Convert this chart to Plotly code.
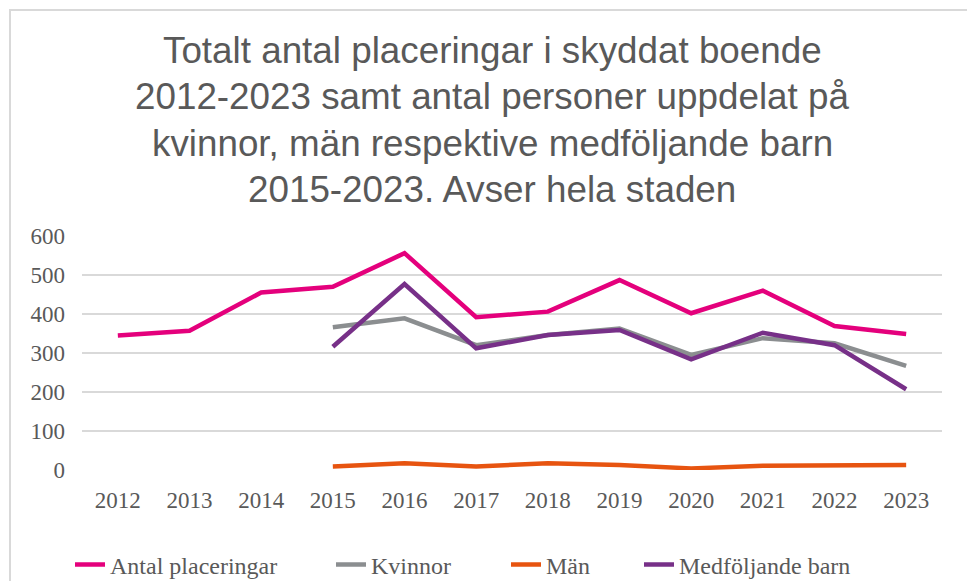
import plotly.graph_objects as go

years = ["2012", "2013", "2014", "2015", "2016", "2017", "2018", "2019", "2020", "2021", "2022", "2023"]
antal_placeringar = [345, 357, 455, 470, 556, 392, 406, 487, 402, 460, 369, 349]
kvinnor = [None, None, None, 366, 389, 320, 346, 363, 295, 338, 325, 267]
man = [None, None, None, 9, 17, 9, 17, 13, 4, 11, 11, 13]
medfoljande_barn = [None, None, None, 316, 477, 312, 346, 359, 284, 352, 320, 207]

series_names = ["Antal placeringar", "Kvinnor", "Män", "Medföljande barn"]
series_values = [antal_placeringar, kvinnor, man, medfoljande_barn]
series_colors = ["#E4007C", "#8B8E90", "#E75410", "#773088"]

title_lines = [
    "Totalt antal placeringar i skyddat boende",
    "2012-2023 samt antal personer uppdelat på",
    "kvinnor, män respektive medföljande barn",
    "2015-2023. Avser hela staden",
]

serif = "Liberation Serif, Times New Roman, serif"
sans = "Liberation Sans, Arial, sans-serif"
gray_text = "#595959"

W, H = 975, 581
L, T, R, B = 74, 228, 41, 119
PW, PH = W - L - R, H - T - B

def px_x(x):
    return (x - L) / PW

def px_y(y):
    return (H - B - y) / PH

# left x (container px) of each legend entry
legend_x_px = [62, 323, 498, 631]
legend_ids = ["legend", "legend2", "legend3", "legend4"]

fig = go.Figure()
for i, (name, vals, color) in enumerate(zip(series_names, series_values, series_colors)):
    fig.add_trace(go.Scatter(
        x=years, y=vals, name=name, mode="lines",
        line=dict(color=color, width=4.5),
        connectgaps=False,
        legend=legend_ids[i],
    ))

legend_common = dict(
    orientation="h", xanchor="left", yanchor="middle",
    xref="container", yref="container", y=1 - 557 / H,
    font=dict(family=serif, size=24, color=gray_text),
    bgcolor="rgba(0,0,0,0)",
)
legend_layout = {}
for i, lid in enumerate(legend_ids):
    legend_layout[lid] = dict(legend_common, x=legend_x_px[i] / W)

fig.update_layout(
    width=W, height=H,
    margin=dict(l=L, r=R, t=T, b=B, autoexpand=False),
    paper_bgcolor="white", plot_bgcolor="white",
    xaxis=dict(
        type="category", range=[-0.5, 11.5], automargin=False,
        showgrid=False, showline=False, zeroline=False,
        tickfont=dict(family=serif, size=23, color=gray_text),
        ticks="", ticklabelstandoff=14,
    ),
    yaxis=dict(
        range=[0, 600], dtick=100, automargin=False,
        showgrid=True, gridcolor="#D9D9D9", gridwidth=1.5,
        zeroline=False, showline=False,
        tickfont=dict(family=serif, size=23, color=gray_text),
        ticks="", ticklabelstandoff=16,
    ),
    showlegend=True,
    **legend_layout,
)

# title lines, each placed individually for exact line spacing
title_mid_px = [43, 89, 135, 181]
for line, ypx in zip(title_lines, title_mid_px):
    fig.add_annotation(
        text=line, showarrow=False,
        xref="paper", yref="paper",
        x=px_x(484), y=px_y(ypx), xanchor="center", yanchor="middle",
        font=dict(family=sans, size=36.8, color=gray_text),
    )

# outer chart frame
fig.add_shape(
    type="rect", xref="paper", yref="paper",
    x0=px_x(2), x1=px_x(962),
    y0=px_y(600), y1=px_y(2),
    line=dict(color="#D9D9D9", width=2), fillcolor="rgba(0,0,0,0)", layer="below",
)

fig.write_html("out.html")
